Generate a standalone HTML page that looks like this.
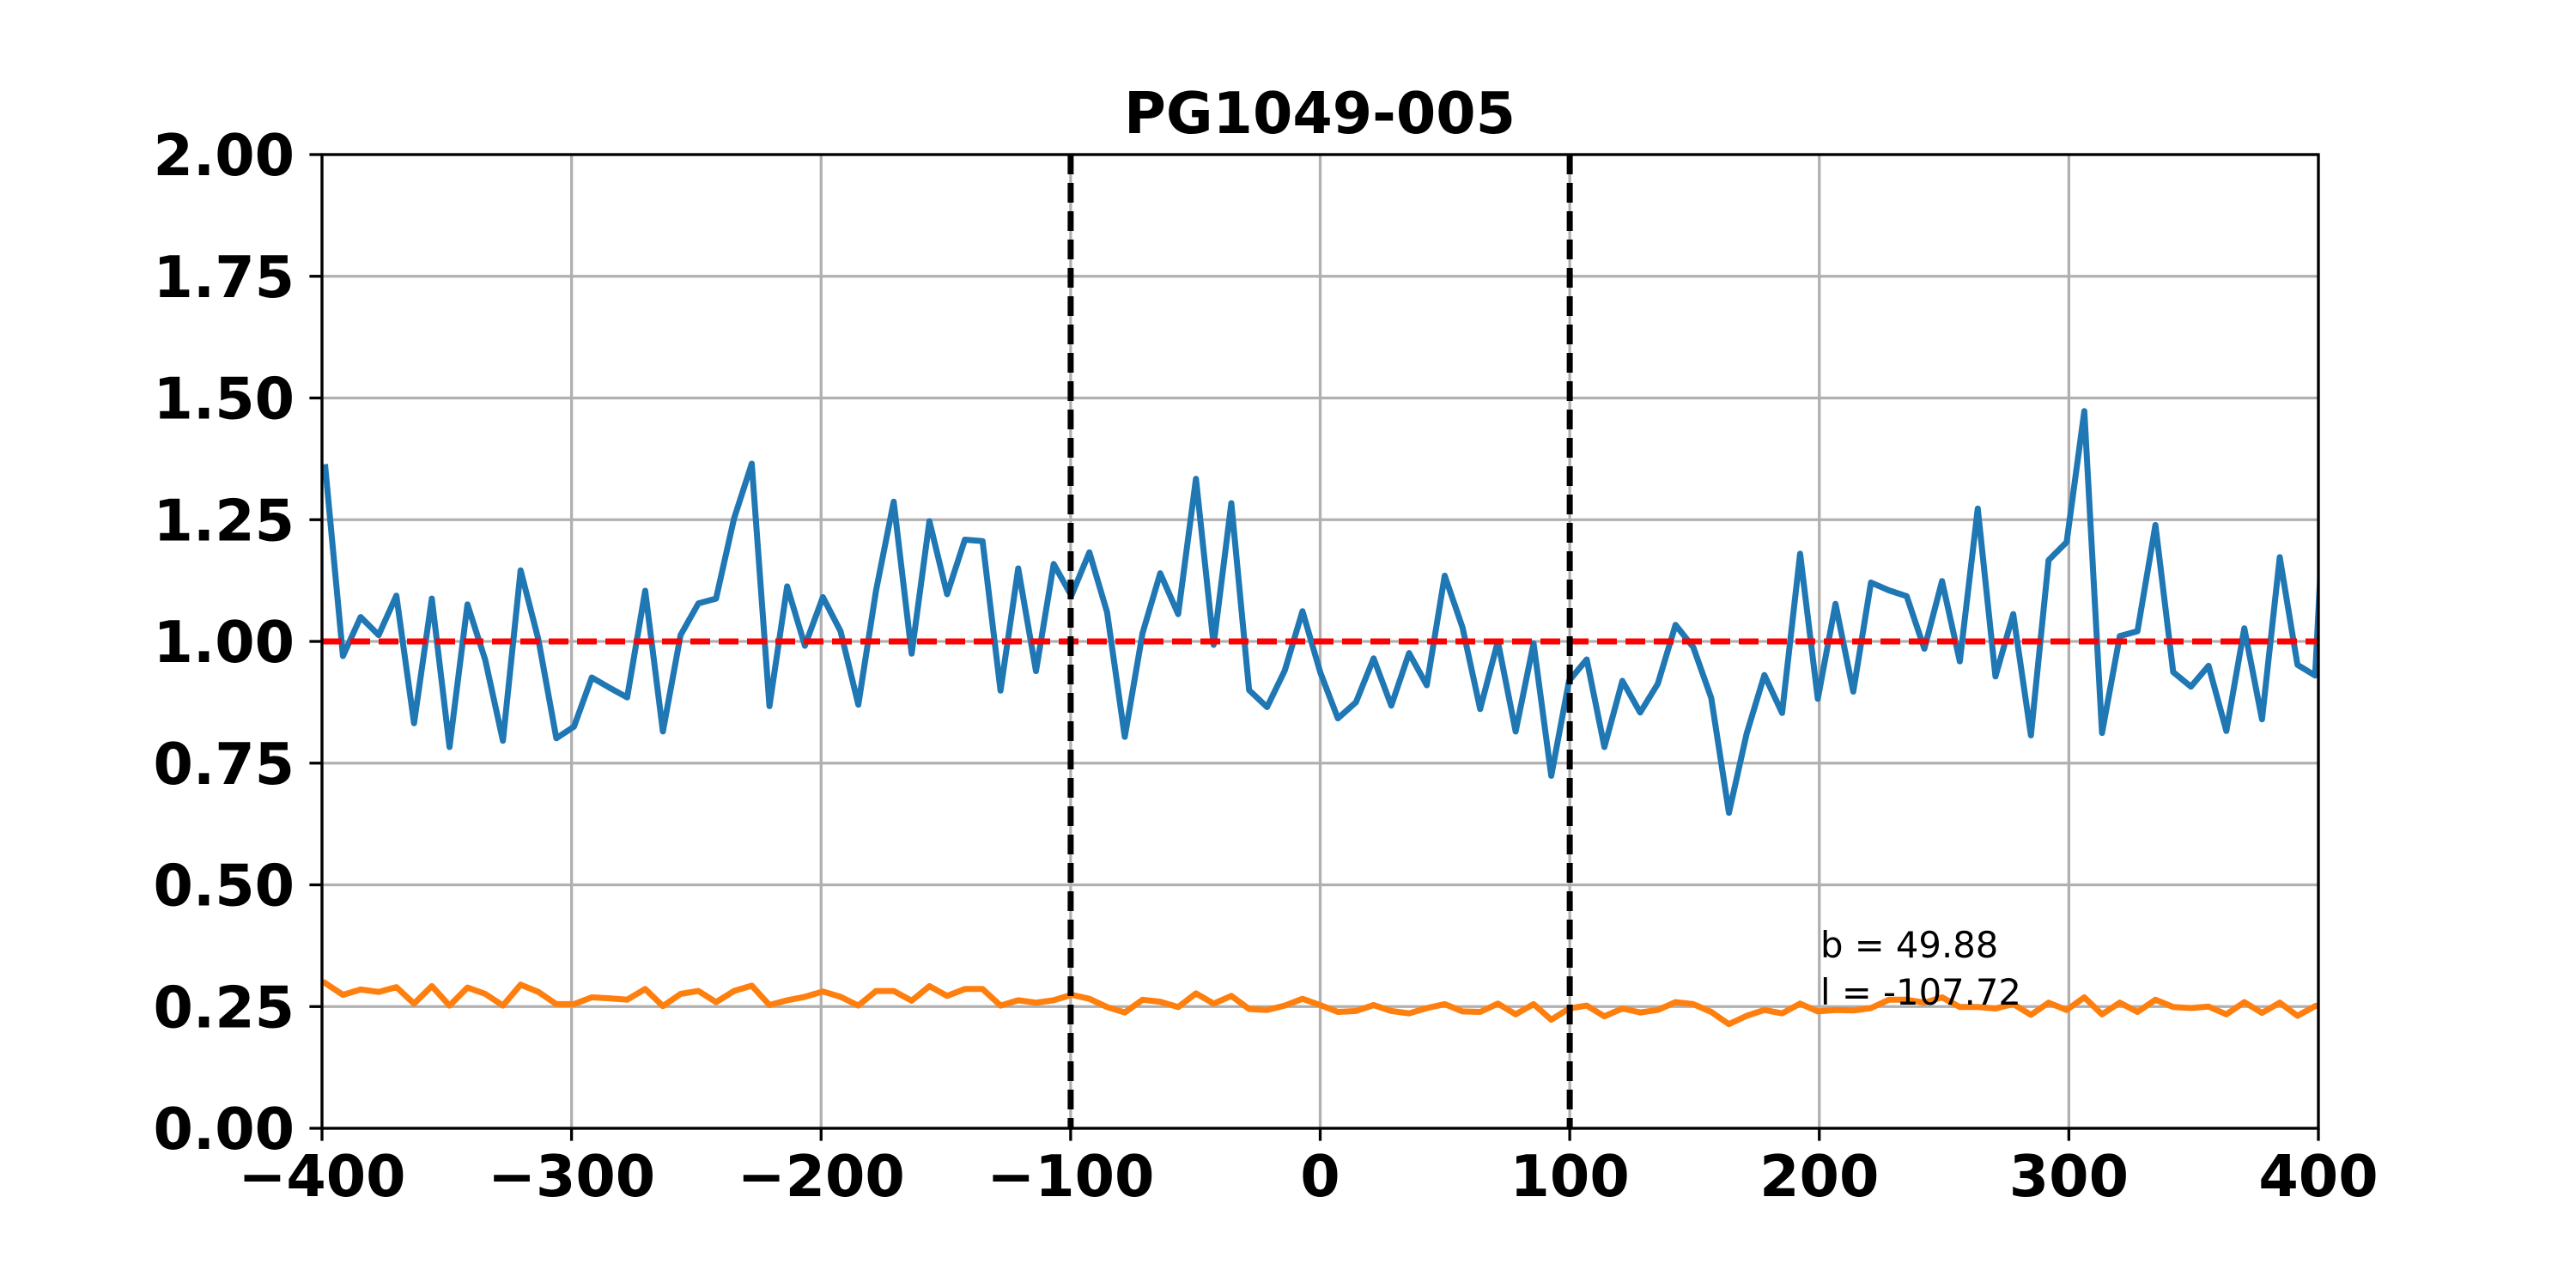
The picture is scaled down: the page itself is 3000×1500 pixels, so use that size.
<!DOCTYPE html>
<html><head><meta charset="utf-8"><style>
html,body{margin:0;padding:0;background:#fff;}
svg{display:block;}
text{font-family:"DejaVu Sans","Liberation Sans",sans-serif;}
</style></head><body>
<svg id="chart" width="3000" height="1500" viewBox="0 0 3000 1500" xmlns="http://www.w3.org/2000/svg">
<rect x="0" y="0" width="3000" height="1500" fill="#fff"/>
<defs><clipPath id="plotclip"><rect x="375" y="180" width="2325" height="1134"/></clipPath></defs>
<g id="grid"></g>
<g id="series" clip-path="url(#plotclip)"></g>
<g id="axes"></g>
<text x="1537" y="155" text-anchor="middle" font-weight="bold" font-size="66.7">PG1049-005</text>
<text x="2120" y="1115" font-size="41.7">b = 49.88</text>
<text x="2120" y="1170" font-size="41.7">l = -107.72</text>
</svg>
<script>
const velocity = [-398.7,-391.6,-384.5,-377.3,-370.2,-363.1,-356.0,-348.9,-341.7,-334.6,-327.5,-320.4,-313.3,-306.1,-299.0,-291.9,-284.8,-277.7,-270.5,-263.4,-256.3,-249.2,-242.1,-234.9,-227.8,-220.7,-213.6,-206.5,-199.3,-192.2,-185.1,-178.0,-170.9,-163.7,-156.6,-149.5,-142.4,-135.3,-128.1,-121.0,-113.9,-106.8,-99.7,-92.5,-85.4,-78.3,-71.2,-64.1,-56.9,-49.8,-42.7,-35.6,-28.5,-21.3,-14.2,-7.1,0.0,7.1,14.3,21.4,28.5,35.6,42.7,49.9,57.0,64.1,71.2,78.3,85.5,92.6,99.7,106.8,113.9,121.1,128.2,135.3,142.4,149.5,156.7,163.8,170.9,178.0,185.1,192.3,199.4,206.5,213.6,220.7,227.9,235.0,242.1,249.2,256.3,263.5,270.6,277.7,284.8,291.9,299.1,306.2,313.3,320.4,327.5,334.7,341.8,348.9,356.0,363.1,370.3,377.4,384.5,391.6,398.7,405.9];
const fluxValues = [1.358,0.970,1.050,1.013,1.094,0.832,1.088,0.783,1.076,0.962,
0.796,1.146,1.004,0.801,0.825,0.926,0.905,0.885,1.104,0.815,
1.013,1.078,1.088,1.252,1.365,0.867,1.113,0.991,1.091,1.021,
0.870,1.104,1.287,0.975,1.247,1.097,1.209,1.206,0.899,1.150,
0.939,1.159,1.094,1.183,1.060,0.804,1.017,1.140,1.056,1.334,
0.993,1.284,0.900,0.865,0.940,1.062,0.937,0.842,0.875,0.965,
0.868,0.976,0.910,1.135,1.029,0.861,1.000,0.815,0.996,0.724,
0.919,0.963,0.783,0.919,0.854,0.913,1.034,0.988,0.884,0.648,
0.811,0.931,0.853,1.180,0.882,1.077,0.897,1.121,1.105,1.093,
0.985,1.124,0.959,1.273,0.928,1.056,0.807,1.167,1.204,1.473,
0.812,1.011,1.021,1.239,0.937,0.907,0.950,0.816,1.027,0.840,
1.173,0.952,0.930,1.65];
const errorValues = [0.298,0.274,0.285,0.280,0.290,0.256,0.292,0.252,0.289,0.276,
0.252,0.295,0.280,0.255,0.255,0.269,0.267,0.264,0.286,0.251,
0.276,0.282,0.259,0.282,0.293,0.253,0.263,0.270,0.281,0.270,
0.252,0.282,0.282,0.262,0.292,0.272,0.286,0.286,0.252,0.263,
0.258,0.263,0.274,0.266,0.249,0.238,0.264,0.260,0.249,0.277,
0.256,0.272,0.245,0.243,0.252,0.266,0.253,0.239,
0.241,0.253,0.241,0.236,0.247,0.255,0.240,0.239,0.256,0.234,
0.255,0.223,0.246,0.252,0.230,0.246,0.238,0.243,0.259,0.255,
0.239,0.214,0.231,0.243,0.236,0.256,0.240,0.243,0.242,0.247,
0.264,0.264,0.258,0.269,0.249,0.249,0.246,0.255,0.233,0.258,
0.243,0.269,0.234,0.258,0.239,0.264,0.249,0.247,0.250,0.234,
0.259,0.237,0.258,0.231,0.251,0.258];
const xTicks = [-400,-300,-200,-100,0,100,200,300,400];
const xTickLabels = ["\u2212400","\u2212300","\u2212200","\u2212100","0","100","200","300","400"];
const yTicks = [0,0.25,0.5,0.75,1.0,1.25,1.5,1.75,2.0];
const yTickLabels = ["0.00","0.25","0.50","0.75","1.00","1.25","1.50","1.75","2.00"];
const continuumLevel = 1.0;
const windowEdges = [-100,100];

const L=375,R=2700,T=180,B=1314;
function xs(v){return L+(v+400)/800*(R-L);}
function ys(v){return B-v/2*(B-T);}
const NS="http://www.w3.org/2000/svg";
function mk(tag,parent,attrs){const e=document.createElementNS(NS,tag);for(const k in attrs)e.setAttribute(k,attrs[k]);parent.appendChild(e);return e;}
const grid=document.getElementById('grid'),series=document.getElementById('series'),axes=document.getElementById('axes');

xTicks.forEach((t,i)=>{
  const g=mk('line',grid,{x1:xs(t),x2:xs(t),y1:T,y2:B,stroke:'#b0b0b0','stroke-width':3.3});
  
  
  const tk=mk('line',axes,{x1:xs(t),x2:xs(t),y1:B,y2:B+14.6,stroke:'#000','stroke-width':3.3});
  
  
  const tx=mk('text',axes,{x:xs(t),y:1393,'text-anchor':'middle','font-weight':'bold','font-size':66.7});
  tx.textContent=xTickLabels[i];
  
  
});
yTicks.forEach((t,i)=>{
  const g=mk('line',grid,{x1:L,x2:R,y1:ys(t),y2:ys(t),stroke:'#b0b0b0','stroke-width':3.3});
  
  
  const tk=mk('line',axes,{x1:L-14.6,x2:L,y1:ys(t),y2:ys(t),stroke:'#000','stroke-width':3.3});
  
  
  const tx=mk('text',axes,{x:343,y:ys(t)+24,'text-anchor':'end','font-weight':'bold','font-size':66.7});
  tx.textContent=yTickLabels[i];
  
  
});

function poly(vals,color,name){
  const pts=velocity.map((v,i)=>xs(v).toFixed(1)+','+ys(vals[i]).toFixed(1)).join(' ');
  const p=mk('polyline',series,{points:pts,fill:'none',stroke:color,'stroke-width':7,'stroke-linejoin':'round','stroke-linecap':'square'});
  
  
}
poly(fluxValues,'#1f77b4','flux-line');
poly(errorValues,'#ff7f0e','error-line');

const cl=mk('line',series,{x1:L,x2:R,y1:ys(continuumLevel),y2:ys(continuumLevel),stroke:'#ff0000','stroke-width':7,'stroke-dasharray':'23 10'});


windowEdges.forEach(w=>{
  const l=mk('line',series,{x1:xs(w),x2:xs(w),y1:T,y2:B,stroke:'#000','stroke-width':7,'stroke-dasharray':'23 10'});
  
  
});
const fr=mk('rect',axes,{x:L,y:T,width:R-L,height:B-T,fill:'none',stroke:'#000','stroke-width':3.3});


</script>
</body></html>
